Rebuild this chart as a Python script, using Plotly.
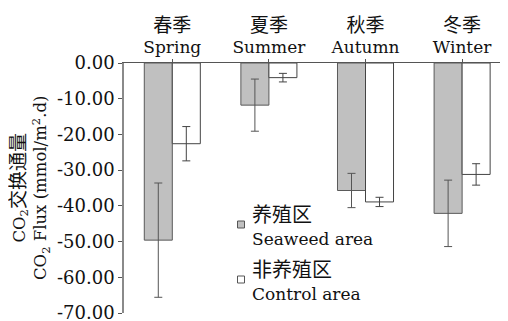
import plotly.graph_objects as go

# ---- data ----
seasons_cn = ["春季", "夏季", "秋季", "冬季"]
seasons_en = ["Spring", "Summer", "Autumn", "Winter"]
seaweed_flux = [-49.6, -11.8, -35.7, -42.1]
seaweed_err = [16.0, 7.3, 4.8, 9.3]
control_flux = [-22.6, -4.1, -38.9, -31.2]
control_err = [4.8, 1.2, 1.3, 3.0]
y_tick_vals = [0, -10, -20, -30, -40, -50, -60, -70]
y_tick_text = ["0.00", "-10.00", "-20.00", "-30.00", "-40.00", "-50.00", "-60.00", "-70.00"]
legend_cn = ["养殖区", "非养殖区"]
legend_en = ["Seaweed area", "Control area"]

FONT = "DejaVu Serif, Noto Sans CJK SC, serif"
OFF = 8  # page body margin offset
W, H = 508 - OFF, 321 - OFF
# plot area in reference pixels: x 124..508, y 63..313
ML, MT = 124 - OFF, 63 - OFF
MB = H - (313 - OFF)
PW, PH = 508 - 124, 313 - 63

cats = list(range(len(seasons_en)))
cat_text = [f"<span style='font-size:19px;color:#111111'>{c}</span><br><span style='font-size:17px'>{e}</span>"
            for c, e in zip(seasons_cn, seasons_en)]

fig = go.Figure()
fig.add_trace(go.Bar(
    x=cats, y=seaweed_flux, name=legend_en[0],
    marker=dict(color="#c0c0c0", line=dict(color="#5a5a5a", width=1)),
    error_y=dict(type="data", array=seaweed_err, visible=True, color="#555555", thickness=1, width=4),
))
fig.add_trace(go.Bar(
    x=cats, y=control_flux, name=legend_en[1],
    marker=dict(color="#ffffff", line=dict(color="#444444", width=1)),
    error_y=dict(type="data", array=control_err, visible=True, color="#444444", thickness=1, width=4),
))

fig.update_layout(
    width=W, height=H,
    margin=dict(l=ML, r=0, t=MT, b=MB, pad=0, autoexpand=False),
    paper_bgcolor="white", plot_bgcolor="white",
    barmode="group", bargap=0.42, bargroupgap=0,
    showlegend=False,
    font=dict(family=FONT, color="#111111", size=17),
)
fig.update_xaxes(
    side="top", range=[-0.5, 3.475], automargin=False,
    tickmode="array", tickvals=cats, ticktext=cat_text,
    ticks="outside", ticklen=3, tickcolor="#555555", tickson="boundaries",
    showline=True, linecolor="#555555", linewidth=1,
    showgrid=False, zeroline=False,
    tickfont=dict(family=FONT, size=16, color="#111111"),
)
fig.update_yaxes(
    range=[-70, 0], automargin=False, ticklabeloverflow="allow",
    tickmode="array", tickvals=y_tick_vals, ticktext=y_tick_text,
    ticks="outside", ticklen=4, tickcolor="#555555",
    showline=True, linecolor="#8a8a8a", linewidth=1.5,
    showgrid=False, zeroline=False,
    tickfont=dict(family=FONT, size=18, color="#111111"),
)

def px_to_paper_x(px):
    return (px - 124) / PW

def py_to_paper_y(py):
    return (313 - py) / PH

# y-axis title
fig.add_annotation(
    xref="paper", yref="paper", x=px_to_paper_x(30), y=py_to_paper_y(188),
    text=("CO<sub>2</sub><span style='font-size:19px;color:#111111'>交换通量</span>"
          "<br>CO<sub>2</sub> Flux (mmol/m<sup>2</sup>.d)"),
    textangle=-90, showarrow=False, xanchor="center", yanchor="middle",
    font=dict(family=FONT, size=16.5, color="#111111"),
)

# legend (manual)
legend_fill = ["#c0c0c0", "#ffffff"]
legend_box_y = [224.5, 279.5]
for i in range(2):
    cy = legend_box_y[i]
    fig.add_shape(type="rect", xref="paper", yref="paper",
                  x0=px_to_paper_x(237.5), x1=px_to_paper_x(244.5),
                  y0=py_to_paper_y(cy - 3.5), y1=py_to_paper_y(cy + 3.5),
                  fillcolor=legend_fill[i], line=dict(color="#555555", width=1))
    fig.add_annotation(xref="paper", yref="paper", x=px_to_paper_x(250), y=py_to_paper_y(cy - 10),
                       text=legend_cn[i], showarrow=False, xanchor="left", yanchor="middle",
                       font=dict(family=FONT, size=20, color="#111111"))
    fig.add_annotation(xref="paper", yref="paper", x=px_to_paper_x(250), y=py_to_paper_y(cy + 14),
                       text=legend_en[i], showarrow=False, xanchor="left", yanchor="middle",
                       font=dict(family=FONT, size=17, color="#111111"))

fig.write_html("out.html")
